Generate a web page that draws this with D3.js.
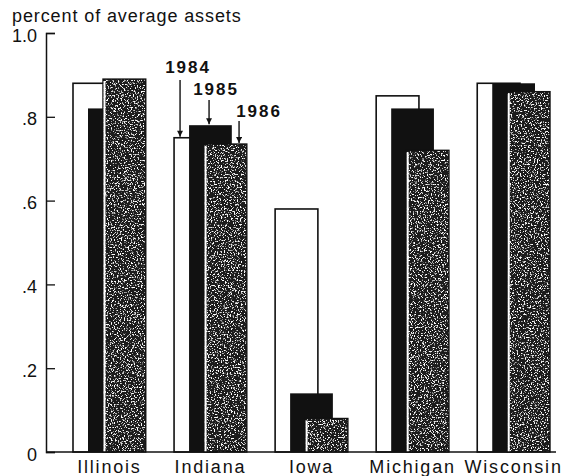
<!DOCTYPE html>
<html>
<head>
<meta charset="utf-8">
<script src="https://cdn.jsdelivr.net/npm/d3@7"></script>
<style>
  body { margin: 0; background: #fff; }
  text { font-family: "Liberation Sans", Arial, sans-serif; fill: #111; }
</style>
</head>
<body>
<div id="chart"></div>
<script>
// data
var states = ["Illinois", "Indiana", "Iowa", "Michigan", "Wisconsin"];
var years = ["1984", "1985", "1986"];
var v1984 = [0.88, 0.75, 0.58, 0.85, 0.88];
var v1985 = [0.82, 0.78, 0.14, 0.82, 0.88];
var v1986 = [0.89, 0.735, 0.08, 0.72, 0.86];
var yTicks = [0, 0.2, 0.4, 0.6, 0.8, 1.0];
var yTickLabels = ["0", ".2", ".4", ".6", ".8", "1.0"];
var yTitle = "percent of average assets";
var calloutState = "Indiana";

var width = 563, height = 476;

var svg = d3.select("#chart").append("svg")
    .attr("width", width)
    .attr("height", height);

var defs = svg.append("defs");

// stipple texture for the 1986 bars
var f = defs.append("filter").attr("id", "speckle")
    .attr("x", 0).attr("y", 0).attr("width", 1).attr("height", 1);
f.append("feTurbulence").attr("type", "fractalNoise").attr("baseFrequency", 0.7)
    .attr("numOctaves", 2).attr("seed", 7).attr("result", "noise");
f.append("feColorMatrix").attr("in", "noise").attr("type", "matrix")
    .attr("values", "0 0 0 0 1  0 0 0 0 1  0 0 0 0 1  8 0 0 0 -4.5")
    .attr("result", "dots");
f.append("feComposite").attr("in", "dots").attr("in2", "SourceGraphic")
    .attr("operator", "in").attr("result", "clipped");
var merge = f.append("feMerge");
merge.append("feMergeNode").attr("in", "SourceGraphic");
merge.append("feMergeNode").attr("in", "clipped");

defs.append("marker").attr("id", "arrow")
    .attr("viewBox", "0 0 10 10").attr("refX", 10).attr("refY", 5)
    .attr("markerUnits", "userSpaceOnUse")
    .attr("markerWidth", 9).attr("markerHeight", 6)
    .attr("orient", "auto")
    .append("path").attr("d", "M0,0L10,5L0,10z").attr("fill", "#111");

// scales
var y = d3.scaleLinear().domain([0, 1]).range([452, 33]);
var x = d3.scaleBand().domain(states).range([73, 550]).paddingInner(0.28);
var xYear = d3.scalePoint().domain(years).range([0, 30]);
var barW = x.bandwidth() - 30;

var series = [
    { year: "1984", values: v1984 },
    { year: "1985", values: v1985 },
    { year: "1986", values: v1986 }
];

// bars: 1984 behind, 1986 in front
var bars = svg.append("g");
series.forEach(function(s) {
    var g = bars.append("g").attr("class", "y" + s.year);
    var rows = states.map(function(st, i) { return { state: st, value: s.values[i] }; });
    rows.forEach(function(d) {
        var bx = x(d.state) + xYear(s.year);
        var by = y(d.value);
        var bh = y(0) - by;
        if (s.year == "1984") {
            g.append("rect").attr("x", bx).attr("y", by).attr("width", barW).attr("height", bh)
                .attr("fill", "#fff").attr("stroke", "#111").attr("stroke-width", 1.6);
        } else if (s.year == "1985") {
            g.append("rect").attr("x", bx).attr("y", by).attr("width", barW).attr("height", bh)
                .attr("fill", "#111");
        } else {
            g.append("rect").attr("x", bx).attr("y", by).attr("width", barW).attr("height", bh)
                .attr("fill", "#1a1a1a").attr("filter", "url(#speckle)");
            g.append("rect").attr("x", bx).attr("y", by).attr("width", barW).attr("height", bh)
                .attr("fill", "none").attr("stroke", "#111").attr("stroke-width", 1.4);
            g.append("line").attr("x1", bx + 1.5).attr("x2", bx + 1.5)
                .attr("y1", by + 2).attr("y2", y(0))
                .attr("stroke", "#fff").attr("stroke-width", 2);
        }
    });
});

// y axis (ticks point inward)
var yAxis = d3.axisLeft(y)
    .tickValues(yTicks)
    .tickSize(-9)
    .tickPadding(9)
    .tickFormat(function(d, i) { return yTickLabels[i]; });

var gy = svg.append("g").attr("transform", "translate(46,0)").call(yAxis);
gy.select(".domain").attr("stroke", "#111").attr("stroke-width", 1.5);
gy.selectAll(".tick line").attr("stroke", "#111").attr("stroke-width", 1.3);
gy.selectAll(".tick text")
    .attr("dy", "0.45em")
    .style("font-size", "18px")
    .style("font-family", "'Liberation Sans', Arial, sans-serif")
    .attr("fill", "#111");

// baseline
svg.append("line")
    .attr("x1", 46).attr("x2", 556)
    .attr("y1", y(0)).attr("y2", y(0))
    .attr("stroke", "#111").attr("stroke-width", 1.6);

// x labels
var xAxis = d3.axisBottom(x).tickSize(0).tickPadding(8);
var gx = svg.append("g").attr("transform", "translate(0," + y(0) + ")").call(xAxis);
gx.select(".domain").remove();
gx.selectAll(".tick text")
    .style("font-size", "18px")
    .style("letter-spacing", "1.8px")
    .style("font-family", "'Liberation Sans', Arial, sans-serif")
    .attr("fill", "#111");

// axis title
svg.append("text")
    .attr("x", 12).attr("y", 22)
    .style("font-size", "18px")
    .style("letter-spacing", "0.9px")
    .text(yTitle);

// year callouts on the Indiana bars
var callout = [
    { year: "1984", inset: 6, labelY: 73, labelDx: 8, arrowTop: 80 },
    { year: "1985", inset: 20, labelY: 95, labelDx: 7, arrowTop: 100 },
    { year: "1986", inset: 35, labelY: 117, labelDx: 20, arrowTop: 121 }
];
var ci = states.indexOf(calloutState);
callout.forEach(function(c) {
    var s = series.filter(function(d) { return d.year == c.year; })[0];
    var ax = x(calloutState) + xYear(c.year) + c.inset;
    svg.append("line")
        .attr("x1", ax).attr("x2", ax)
        .attr("y1", c.arrowTop).attr("y2", y(s.values[ci]) - 1)
        .attr("stroke", "#111").attr("stroke-width", 1.4)
        .attr("marker-end", "url(#arrow)");
    svg.append("text")
        .attr("x", ax + c.labelDx).attr("y", c.labelY)
        .attr("text-anchor", "middle")
        .style("font-size", "17px")
        .style("font-weight", "bold")
        .style("letter-spacing", "2px")
        .text(c.year);
});
</script>
</body>
</html>
